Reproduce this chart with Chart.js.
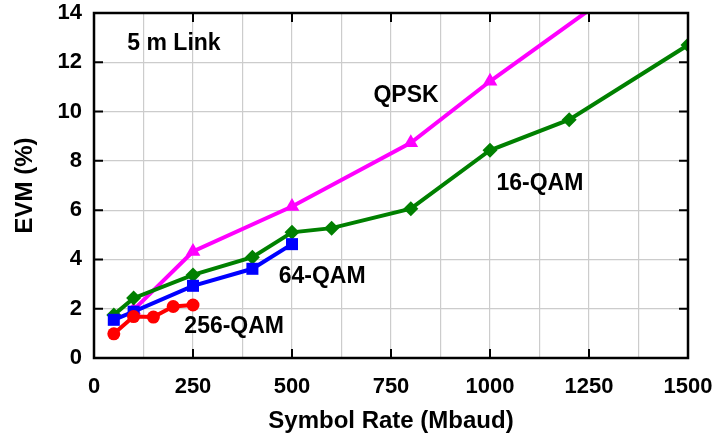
<!DOCTYPE html>
<html>
<head>
<meta charset="utf-8">
<script src="https://cdn.jsdelivr.net/npm/chart.js@4/dist/chart.umd.min.js"></script>
<style>
  html, body { margin: 0; padding: 0; background: #fff; }
  #wrap { width: 717px; height: 444px; }
</style>
</head>
<body>
<div id="wrap"><canvas id="evmChart" width="717" height="444"></canvas></div>
<script>
// ─── Data ──────────────────────────────────────────────────
const qam256Rate = [50, 100, 150, 200, 250];
const qam256Evm  = [0.98, 1.68, 1.66, 2.09, 2.15];

const qam64Rate = [50, 100, 250, 400, 500];
const qam64Evm  = [1.55, 1.88, 2.93, 3.62, 4.62];

const qam16Rate = [50, 100, 250, 400, 500, 600, 800, 1000, 1200, 1500];
const qam16Evm  = [1.75, 2.43, 3.37, 4.09, 5.1, 5.27, 6.06, 8.43, 9.67, 12.7];

const qpskRate = [100, 250, 500, 800, 1000, 1500];
const qpskEvm  = [1.95, 4.32, 6.15, 8.73, 11.23, 17.0];

const xTicks = [0, 250, 500, 750, 1000, 1250, 1500];
const yTicks = [0, 2, 4, 6, 8, 10, 12, 14];

// in-plot labels, placed in data units
const noteText = ['5 m Link', 'QPSK', '16-QAM', '64-QAM', '256-QAM'];
const noteX    = [202, 788, 1126, 576, 354];
const noteY    = [12.74, 10.65, 7.06, 3.29, 1.28];

const FONT = '"Liberation Sans", Arial, Helvetica, sans-serif';
const pts = (xs, ys) => xs.map((x, i) => ({ x, y: ys[i] }));

// ─── Frame, inward ticks, labels ───────────────────────────
const framePlugin = {
  id: 'frame',
  afterDraw(chart) {
    const { ctx, chartArea: a, scales: { x, y } } = chart;
    const len = 9;
    ctx.save();
    ctx.strokeStyle = '#000';
    ctx.lineWidth = 2;
    ctx.beginPath();
    xTicks.forEach(v => {
      const px = x.getPixelForValue(v);
      ctx.moveTo(px, a.bottom); ctx.lineTo(px, a.bottom - len);
      ctx.moveTo(px, a.top); ctx.lineTo(px, a.top + len);
    });
    yTicks.forEach(v => {
      const py = y.getPixelForValue(v);
      ctx.moveTo(a.left, py); ctx.lineTo(a.left + len, py);
      ctx.moveTo(a.right, py); ctx.lineTo(a.right - len, py);
    });
    ctx.stroke();
    ctx.lineWidth = 2.5;
    ctx.strokeRect(a.left, a.top, a.right - a.left, a.bottom - a.top);

    ctx.fillStyle = '#000';
    ctx.font = 'bold 23px ' + FONT;
    ctx.textAlign = 'center';
    ctx.textBaseline = 'middle';
    noteText.forEach((t, i) => {
      ctx.fillText(t, x.getPixelForValue(noteX[i]), y.getPixelForValue(noteY[i]));
    });
    ctx.restore();
  }
};

const line = (data, color, shape, radius) => ({
  data,
  borderColor: color,
  backgroundColor: color,
  borderWidth: 4,
  pointStyle: shape,
  pointRadius: radius,
  pointHoverRadius: radius,
  pointBorderWidth: 0,
  tension: 0
});

new Chart(document.getElementById('evmChart'), {
  type: 'line',
  data: {
    datasets: [
      line(pts(qam256Rate, qam256Evm), '#ff0000', 'circle', 6.5),
      line(pts(qam64Rate, qam64Evm), '#0000ff', 'rect', 8.5),
      line(pts(qam16Rate, qam16Evm), '#008000', 'rectRot', 7.5),
      line(pts(qpskRate, qpskEvm), '#ff00ff', 'triangle', 8.5)
    ]
  },
  options: {
    responsive: false,
    animation: false,
    events: [],
    layout: { padding: { top: 13, right: 29, bottom: 0, left: 0 } },
    plugins: { legend: { display: false }, tooltip: { enabled: false } },
    scales: {
      x: {
        type: 'linear',
        min: 0, max: 1500,
        afterFit: s => { s.height = 86; s.paddingLeft = 0; s.paddingRight = 0; },
        ticks: {
          stepSize: 125,
          padding: 16,
          maxRotation: 0,
          minRotation: 0,
          autoSkip: false,
          color: '#000',
          font: { family: FONT, size: 22, weight: 'bold' },
          callback: v => (v % 250 === 0 ? String(v) : '')
        },
        grid: { color: '#cccccc', lineWidth: 1.2, drawTicks: false },
        border: { display: false },
        title: {
          display: true,
          text: 'Symbol Rate (Mbaud)',
          color: '#000',
          font: { family: FONT, size: 24, weight: 'bold' },
          padding: { top: 0, bottom: 8 }
        }
      },
      y: {
        type: 'linear',
        min: 0, max: 14,
        afterFit: s => { s.width = 94; s.paddingTop = 0; s.paddingBottom = 0; },
        ticks: {
          stepSize: 2,
          padding: 12,
          color: '#000',
          font: { family: FONT, size: 22, weight: 'bold' }
        },
        grid: { color: '#cccccc', lineWidth: 1.2, drawTicks: false },
        border: { display: false },
        title: {
          display: true,
          text: 'EVM (%)',
          color: '#000',
          font: { family: FONT, size: 24, weight: 'bold' },
          padding: { top: 11, bottom: 0 }
        }
      }
    }
  },
  plugins: [framePlugin]
});
</script>
</body>
</html>
